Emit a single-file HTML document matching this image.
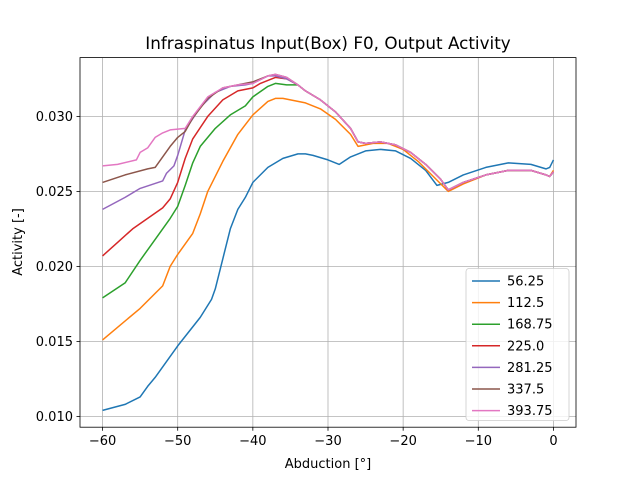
<!DOCTYPE html>
<html><head><meta charset="utf-8"><style>
body{margin:0;background:#fff;}
svg{font-family:"DejaVu Sans","Liberation Sans",sans-serif;}
</style></head><body>
<svg id="c" width="640" height="480" viewBox="0 0 640 480"></svg>
<script>
const seriesNames=["56.25","112.5","168.75","225.0","281.25","337.5","393.75"];
const colors=["#1f77b4","#ff7f0e","#2ca02c","#d62728","#9467bd","#8c564b","#e377c2"];
const tailX=[-34,-33,-31,-29,-27,-26,-25,-23,-21,-19,-17,-15,-14,-12,-9,-6,-3,-1,-0.5,0];
const tailY=[0.0321,0.0317,0.0311,0.0303,0.0292,0.0283,0.0282,0.0283,0.0281,0.0276,0.0268,0.0258,0.0251,0.0256,0.0261,0.0264,0.0264,0.0261,0.0260,0.0263];
const s0x=[-60,-57,-55,-54,-53,-50,-47,-45.5,-45,-44,-43,-42,-41,-40,-38,-36,-34,-33,-32,-30,-28.5,-27,-25,-23,-21,-19,-17,-15.5,-14,-12,-9,-6,-3,-1,-0.5,0];
const s0y=[0.0104,0.0108,0.0113,0.0120,0.0126,0.0147,0.0166,0.0178,0.0185,0.0205,0.0225,0.0238,0.0246,0.0256,0.0266,0.0272,0.0275,0.0275,0.0274,0.0271,0.0268,0.0273,0.0277,0.0278,0.0277,0.0272,0.0264,0.0254,0.0256,0.0261,0.0266,0.0269,0.0268,0.0265,0.0266,0.0271];
const s1x=[-60,-55,-52,-51,-50,-48,-47,-46,-44,-42,-40,-38,-37,-36,-35,-33,-31,-29,-27,-26,-24,-22,-20,-18,-16,-14,-12,-9,-6,-3,-1,-0.5,0];
const s1y=[0.0151,0.0172,0.0187,0.0200,0.0208,0.0222,0.0235,0.0250,0.0270,0.0288,0.0301,0.0310,0.0312,0.0312,0.0311,0.0309,0.0305,0.0298,0.0288,0.0280,0.0282,0.0282,0.0278,0.0270,0.0260,0.0250,0.0255,0.0261,0.0264,0.0264,0.0261,0.0260,0.0264];
const s2x=[-60,-57,-55,-53,-51,-50,-49,-48,-47,-45,-43,-41,-40,-38,-37,-35.5];
const s2y=[0.0179,0.0189,0.0204,0.0218,0.0232,0.0240,0.0254,0.0269,0.0280,0.0292,0.0301,0.0307,0.0313,0.0320,0.0322,0.0321];
const s3x=[-60,-58,-56,-54,-52,-51,-50,-49,-48,-46,-44,-42,-40,-39,-37,-35.5];
const s3y=[0.0207,0.0216,0.0225,0.0232,0.0239,0.0245,0.0256,0.0272,0.0285,0.0300,0.0311,0.0317,0.0319,0.0322,0.0326,0.0325];
const s4x=[-60,-57,-55,-52,-51.5,-50.5,-50,-49,-47,-45,-43,-41,-40,-38,-37,-35.5];
const s4y=[0.0238,0.0246,0.0252,0.0257,0.0262,0.0267,0.0274,0.0291,0.0306,0.0316,0.0320,0.0321,0.0322,0.0327,0.0327,0.0325];
const s5x=[-60,-57,-54,-53,-52,-51,-50,-49,-48,-46,-44,-42,-40,-38,-37,-35.5];
const s5y=[0.0256,0.0261,0.0265,0.0266,0.0273,0.0280,0.0286,0.0290,0.0299,0.0312,0.0319,0.0321,0.0323,0.0327,0.0328,0.0326];
const s6x=[-60,-58,-55.5,-55,-54,-53,-52,-51,-49,-48,-46,-44,-42,-40,-38,-37,-35.5];
const s6y=[0.0267,0.0268,0.0271,0.0276,0.0279,0.0286,0.0289,0.0291,0.0292,0.0300,0.0313,0.0319,0.0321,0.0322,0.0327,0.0328,0.0326];
const xTicks=[-60,-50,-40,-30,-20,-10,0];
const xTickLabels=["−60","−50","−40","−30","−20","−10","0"];
const yTicks=[0.010,0.015,0.020,0.025,0.030];
const yTickLabels=["0.010","0.015","0.020","0.025","0.030"];

const L=80,R=576,T=57.6,B=427.2,x0=-63,x1=3,y0=0.00928,y1=0.03392;
const X=v=>L+(v-x0)/(x1-x0)*(R-L);
const Y=v=>B-(v-y0)/(y1-y0)*(B-T);
const svg=document.getElementById('c');
const NS="http://www.w3.org/2000/svg";
function mk(t,a){const e=document.createElementNS(NS,t);for(const k in a)e.setAttribute(k,a[k]);svg.appendChild(e);return e;}

const t=mk('text',{x:328,y:49,'text-anchor':'middle','font-size':16.8,fill:'#000'});t.textContent="Infraspinatus Input(Box) F0, Output Activity";



xTicks.forEach((v,i)=>{
  const g=mk('line',{x1:X(v),x2:X(v),y1:T,y2:B,stroke:'#b0b0b0','stroke-width':0.8});
  
  
  mk('line',{x1:X(v),x2:X(v),y1:B,y2:B+3.5,stroke:'#000','stroke-width':0.8});
  const l=mk('text',{x:X(v),y:B+18,'text-anchor':'middle','font-size':13,fill:'#000'});l.textContent=xTickLabels[i];
  
  
});
yTicks.forEach((v,i)=>{
  const g=mk('line',{x1:L,x2:R,y1:Y(v),y2:Y(v),stroke:'#b0b0b0','stroke-width':0.8});
  
  
  mk('line',{x1:L-3.5,x2:L,y1:Y(v),y2:Y(v),stroke:'#000','stroke-width':0.8});
  const l=mk('text',{x:L-7,y:Y(v)+4.5,'text-anchor':'end','font-size':13,fill:'#000'});l.textContent=yTickLabels[i];
  
  
});

const allX=[s0x,s1x,s2x.concat(tailX),s3x.concat(tailX),s4x.concat(tailX),s5x.concat(tailX),s6x.concat(tailX)];
const allY=[s0y,s1y,s2y.concat(tailY),s3y.concat(tailY),s4y.concat(tailY),s5y.concat(tailY),s6y.concat(tailY)];
allX.forEach((xs,i)=>{
  const d=xs.map((v,j)=>(j?'L':'M')+X(v).toFixed(2)+','+Y(allY[i][j]).toFixed(2)).join(' ');
  const p=mk('path',{d:d,fill:'none',stroke:colors[i],'stroke-width':1.5,'stroke-linejoin':'round'});
  
  
});

const fr=mk('rect',{x:L,y:T,width:R-L,height:B-T,fill:'none',stroke:'#000','stroke-width':0.8});



const lg=mk('rect',{x:466,y:268.5,width:103,height:152,rx:3,fill:'#fff','fill-opacity':0.8,stroke:'#ccc','stroke-width':0.8});


seriesNames.forEach((n,i)=>{
  const yy=281+i*21.6;
  const ln=mk('line',{x1:472,x2:500,y1:yy,y2:yy,stroke:colors[i],'stroke-width':1.5});
  
  
  const tx=mk('text',{x:507,y:yy+4.5,'font-size':13,fill:'#000'});tx.textContent=n;
  
  
});

const xl=mk('text',{x:328,y:468,'text-anchor':'middle','font-size':13,fill:'#000'});xl.textContent="Abduction [°]";


const yl=mk('text',{x:22,y:242,'text-anchor':'middle','font-size':13,fill:'#000',transform:'rotate(-90 22 242)'});yl.textContent="Activity [-]";


</script>
</body></html>
